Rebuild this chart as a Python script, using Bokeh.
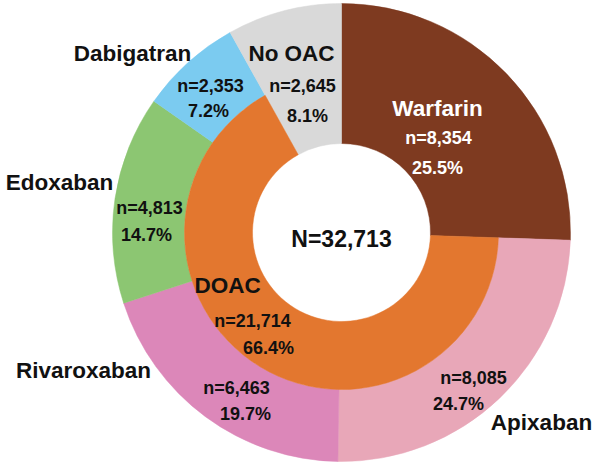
import math
from bokeh.plotting import figure
from bokeh.models import Range1d, ColumnDataSource
from bokeh.core.properties import value
from bokeh.embed import file_html
from bokeh.resources import INLINE

# ---- data ----
drugs = ["Warfarin", "Apixaban", "Rivaroxaban", "Edoxaban", "Dabigatran", "No OAC"]
counts = [8354, 8085, 6463, 4813, 2353, 2645]
pct_labels = ["25.5%", "24.7%", "19.7%", "14.7%", "7.2%", "8.1%"]
doac_members = ["Apixaban", "Rivaroxaban", "Edoxaban", "Dabigatran"]
doac_label = "DOAC"
doac_pct = "66.4%"
total_label = "N=32,713"

colors = {"Warfarin": "#7E3A20", "Apixaban": "#E8A7B8", "Rivaroxaban": "#DC87B9",
          "Edoxaban": "#8CC672", "Dabigatran": "#7BCBF0", "No OAC": "#D9D9D9"}
doac_color = "#E3772F"

# ---- layout (pixel coordinates of the picture, y downward) ----
W, H = 596, 463
IMG_H = 469
def Y(py):
    return IMG_H - py

cx, cy = 341, Y(232)
r_hole, r_mid, r_out = 89, 157, 229

p = figure(width=W, height=H, output_backend="svg",
           toolbar_location=None, x_range=Range1d(0, W), y_range=Range1d(IMG_H - H, IMG_H),
           min_border=0)
p.axis.visible = False
p.grid.visible = False
p.outline_line_color = None
p.background_fill_color = "white"

total = sum(counts)
cum = 0.0
starts, ends, inner, cols = [], [], [], []
for d, c in zip(drugs, counts):
    a0 = math.pi / 2 - 2 * math.pi * cum / total
    cum += c
    a1 = math.pi / 2 - 2 * math.pi * cum / total
    starts.append(a0)
    ends.append(a1)
    inner.append(r_mid if d in doac_members else r_hole)
    cols.append(colors[d])

src = ColumnDataSource(dict(x=[cx] * len(drugs), y=[cy] * len(drugs), ir=inner,
                            s=starts, e=ends, c=cols))
p.annular_wedge(x="x", y="y", inner_radius="ir", outer_radius=r_out,
                start_angle="s", end_angle="e", direction="clock",
                fill_color="c", line_color="c", line_width=0.5, source=src)

# DOAC inner ring
idx = [drugs.index(d) for d in doac_members]
d_start = starts[idx[0]]
d_end = ends[idx[-1]]
doac_n = sum(counts[i] for i in idx)
p.annular_wedge(x=cx, y=cy, inner_radius=r_hole, outer_radius=r_mid,
                start_angle=d_start, end_angle=d_end, direction="clock",
                fill_color=doac_color, line_color=doac_color, line_width=0.5)

FONT = value("Liberation Sans")

def txt(x, y, s, size, color="#111111"):
    p.text(x=[x], y=[Y(y)], text=[s], text_font=FONT, text_font_style="bold",
           text_font_size=f"{size}px", text_color=color,
           text_align="center", text_baseline="middle")

def ntext(c):
    return "n=" + format(c, ",")

name_pos = {"Warfarin": (437, 108), "Apixaban": (541, 422), "Rivaroxaban": (83, 370),
            "Edoxaban": (59, 182), "Dabigatran": (132, 53), "No OAC": (291, 53)}
n_pos = {"Warfarin": (438, 137), "Apixaban": (473, 377), "Rivaroxaban": (236, 387),
         "Edoxaban": (149, 207), "Dabigatran": (210, 85), "No OAC": (302, 85)}
pc_pos = {"Warfarin": (437, 167), "Apixaban": (458, 403), "Rivaroxaban": (245, 413),
          "Edoxaban": (146, 234), "Dabigatran": (208, 110), "No OAC": (307, 115)}

for d, c, pc in zip(drugs, counts, pct_labels):
    col = "white" if d == "Warfarin" else "#111111"
    txt(*name_pos[d], d, 22.5, col)
    txt(*n_pos[d], ntext(c), 18, col)
    txt(*pc_pos[d], pc, 18, col)

txt(227, 285, doac_label, 22.5)
txt(252, 320, ntext(doac_n), 18)
txt(268, 347, doac_pct, 18)
txt(341, 238, total_label, 23)

open("out.html", "w").write(file_html(p, INLINE))
